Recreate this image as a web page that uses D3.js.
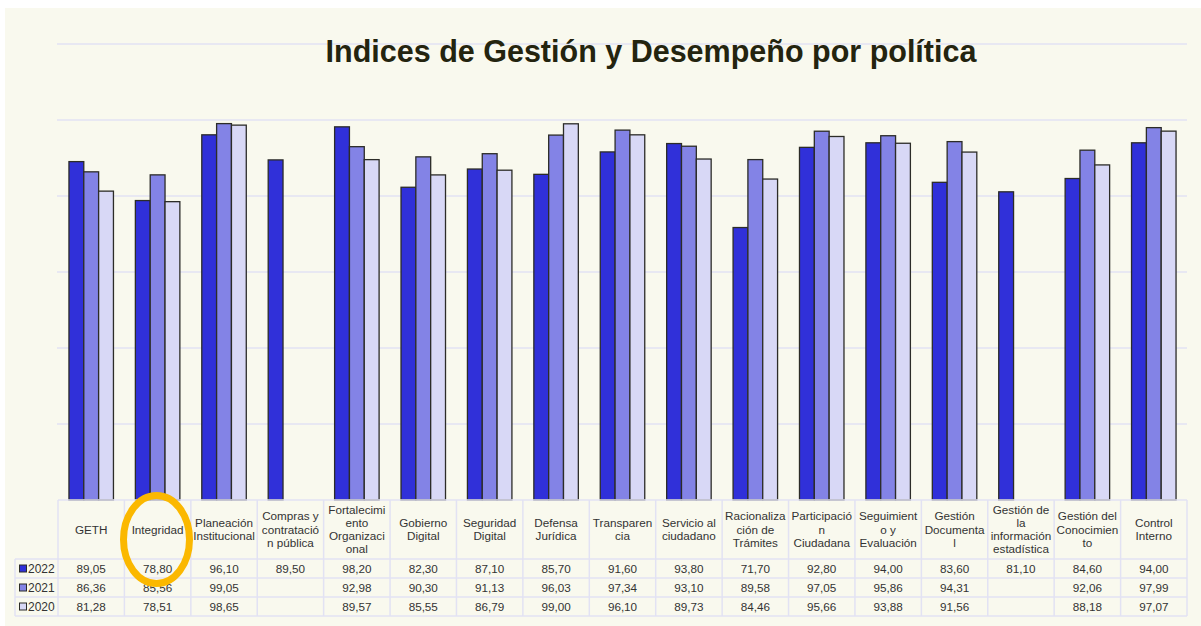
<!DOCTYPE html>
<html>
<head>
<meta charset="utf-8">
<script src="https://cdn.jsdelivr.net/npm/d3@7"></script>
<style>
  body { margin: 0; background: #fff; }
  svg { display: block; font-family: "Liberation Sans", Arial, sans-serif; }
</style>
</head>
<body>
<div id="chart"></div>
<script>
const width = 1201;
const height = 626;

// categorias (con los cortes de linea como en la tabla)
const categories = [
  "GETH", "Integridad", "Planeación\nInstitucional", "Compras y\ncontratació\nn pública",
  "Fortalecimi\nento\nOrganizaci\nonal", "Gobierno\nDigital", "Seguridad\nDigital",
  "Defensa\nJurídica", "Transparen\ncia", "Servicio al\nciudadano",
  "Racionaliza\nción de\nTrámites", "Participació\nn\nCiudadana", "Seguimient\no y\nEvaluación",
  "Gestión\nDocumenta\nl", "Gestión de\nla\ninformación\nestadística",
  "Gestión del\nConocimien\nto", "Control\nInterno"
];
const years = ["2022", "2021", "2020"];
const colors = ["#3030d9", "#8383e6", "#d8d8f6"];

const v2022 = [89.05, 78.80, 96.10, 89.50, 98.20, 82.30, 87.10, 85.70, 91.60, 93.80, 71.70, 92.80, 94.00, 83.60, 81.10, 84.60, 94.00];
const v2021 = [86.36, 85.56, 99.05, null, 92.98, 90.30, 91.13, 96.03, 97.34, 93.10, 89.58, 97.05, 95.86, 94.31, null, 92.06, 97.99];
const v2020 = [81.28, 78.51, 98.65, null, 89.57, 85.55, 86.79, 99.00, 96.10, 89.73, 84.46, 95.66, 93.88, 91.56, null, 88.18, 97.07];
const series = [v2022, v2021, v2020];

const yTicks = [0, 20, 40, 60, 80, 100, 120];

const svg = d3.select("#chart").append("svg")
  .attr("width", width)
  .attr("height", height);

// fondo
svg.append("rect")
  .attr("x", 5).attr("y", 8)
  .attr("width", width - 5).attr("height", height - 8)
  .attr("fill", "#f9f9ee");

const x0 = d3.scaleBand().domain(categories).range([58, 1187]).padding(0);
const bw = x0.bandwidth();
const x1 = d3.scaleBand().domain(years).range([bw * 0.165, bw * 0.835]).padding(0);
const y = d3.scaleLinear().domain([0, 120]).range([500, 44]);

// lineas de la grilla
svg.append("g")
  .selectAll("line")
  .data(yTicks.slice(1))
  .enter().append("line")
  .attr("x1", 57).attr("x2", 1187)
  .attr("y1", d => y(d)).attr("y2", d => y(d))
  .attr("stroke", "#e2e2f3")
  .attr("stroke-width", 1.5);

// titulo
svg.append("text")
  .attr("x", 651).attr("y", 62)
  .attr("text-anchor", "middle")
  .attr("font-size", 30.5)
  .attr("font-weight", "bold")
  .attr("fill", "#24240f")
  .text("Indices de Gestión y Desempeño por política");

// barras
const barData = [];
categories.forEach((c, i) => {
  years.forEach((yr, j) => {
    const v = series[j][i];
    if (v != null) barData.push({ cat: c, year: yr, value: v, color: colors[j] });
  });
});

svg.append("g")
  .selectAll("rect")
  .data(barData)
  .enter().append("rect")
  .attr("x", d => x0(d.cat) + x1(d.year))
  .attr("y", d => y(d.value))
  .attr("width", x1.bandwidth())
  .attr("height", d => y(0) - y(d.value))
  .attr("fill", d => d.color)
  .attr("stroke", "#2c2c28")
  .attr("stroke-width", 1.3);

// tabla de datos
const table = svg.append("g").attr("font-size", 11.7).attr("fill", "#333");
const lineCol = "#e2e2f3";
const tTop = 500, headBottom = 559;
const rowY = [559, 578, 597, 616];

// lineas horizontales
table.append("line").attr("x1", 58).attr("x2", 1187).attr("y1", tTop).attr("y2", tTop)
  .attr("stroke", lineCol).attr("stroke-width", 1.5);
table.selectAll(".hl")
  .data(rowY)
  .enter().append("line")
  .attr("x1", 15).attr("x2", 1187)
  .attr("y1", d => d).attr("y2", d => d)
  .attr("stroke", lineCol).attr("stroke-width", 1.5);

// lineas verticales
const colEdges = categories.map(c => x0(c)).concat([1187]);
table.selectAll(".vl")
  .data(colEdges)
  .enter().append("line")
  .attr("x1", d => d).attr("x2", d => d)
  .attr("y1", tTop).attr("y2", 616)
  .attr("stroke", lineCol).attr("stroke-width", 1.5);
table.append("line").attr("x1", 15).attr("x2", 15).attr("y1", 559).attr("y2", 616)
  .attr("stroke", lineCol).attr("stroke-width", 1.5);

// encabezados
const lh = 13.3;
categories.forEach(c => {
  const lines = c.split("\n");
  const cy = (tTop + headBottom) / 2;
  const t = table.append("text")
    .attr("text-anchor", "middle")
    .attr("x", x0(c) + bw / 2)
    .attr("y", cy - (lines.length - 1) * lh / 2 + 4);
  lines.forEach((ln, k) => {
    t.append("tspan")
      .attr("x", x0(c) + bw / 2)
      .attr("dy", k === 0 ? 0 : lh)
      .text(ln);
  });
});

// valores
const fmt = v => v.toFixed(2).replace(".", ",");
years.forEach((yr, j) => {
  const cy = (rowY[j] + rowY[j + 1]) / 2;
  table.append("rect")
    .attr("x", 19.5).attr("y", cy - 3.5)
    .attr("width", 7).attr("height", 7)
    .attr("fill", colors[j])
    .attr("stroke", "#2c2c28").attr("stroke-width", 1);
  table.append("text")
    .attr("x", 28).attr("y", cy + 4.2)
    .attr("font-size", 12)
    .text(yr);
  categories.forEach((c, i) => {
    const v = series[j][i];
    if (v == null) return;
    table.append("text")
      .attr("x", x0(c) + bw / 2)
      .attr("y", cy + 4.2)
      .attr("text-anchor", "middle")
      .text(fmt(v));
  });
});

// anotacion (elipse naranja)
svg.append("ellipse")
  .attr("cx", 156.5)
  .attr("cy", 539.5)
  .attr("rx", 33).attr("ry", 44)
  .attr("fill", "none")
  .attr("stroke", "#fbb800")
  .attr("stroke-width", 7);
</script>
</body>
</html>
